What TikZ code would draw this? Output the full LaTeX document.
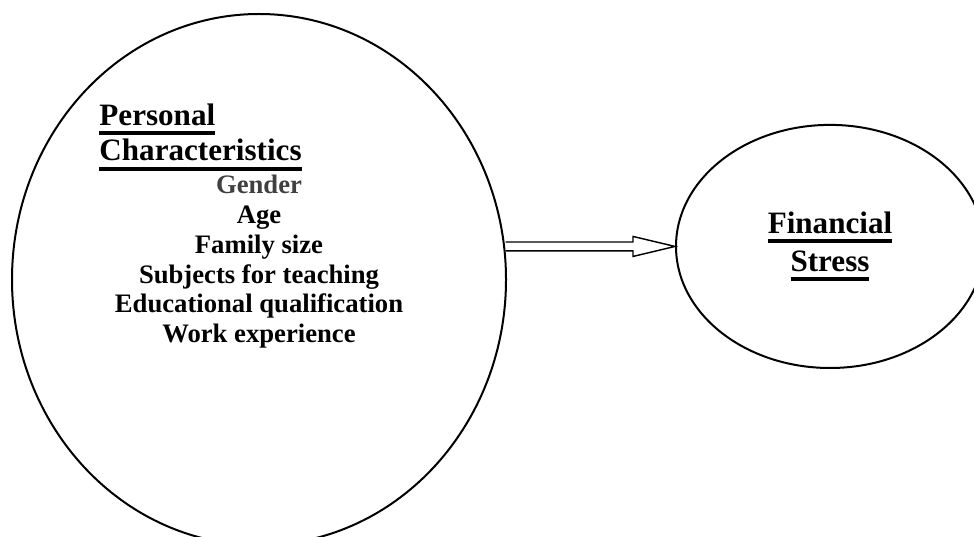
\documentclass[tikz,border=0pt]{standalone}
\usepackage{fontspec}
\setmainfont{Liberation Serif}
\usepackage{tikz}
\usetikzlibrary{shapes.geometric, calc}

\definecolor{gendergray}{HTML}{404040}
\newcommand{\hdline}[1]{\setbox0\hbox{#1}\rlap{\rule[-4.4pt]{\wd0}{1.8pt}}\box0}

\begin{document}
\begin{tikzpicture}[x=1pt, y=1pt,
	bubble/.style={draw, ellipse, line width=0.9pt, inner sep=0pt},
	heading/.style={font=\fontsize{14}{17.1}\selectfont\bfseries, inner sep=0pt}]
	\useasboundingbox (0,0) rectangle (438.3,241.2);
	\clip (0,0) rectangle (438.3,241.2);

	\node[bubble, minimum width=222.3pt, minimum height=239.0pt] (pc) at (116.55,115.4) {};
	\node[bubble, heading, minimum width=138.6pt, minimum height=109.4pt, align=center] (fs) at (373.5,130.3) {\hdline{Financial}\\\hdline{Stress}};

	\node[heading, anchor=base west] (pers) at (44.55,184.7) {\hdline{Personal}};
	\node[heading, anchor=base west] (chars) at (44.55,168.75) {\hdline{Characteristics}};
	\node[inner sep=0pt, anchor=north, align=center, font=\fontsize{12}{13.45}\selectfont\bfseries] (items) at (116.55,162.7)
		{\textcolor{gendergray}{Gender}\\Age\\Family size\\Subjects for teaching\\Educational qualification\\Work experience};

	\coordinate (tip) at (fs.west);
	\draw[line width=0.65pt] ($(pc.east |- tip)+(-0.6,2)$) -- ($(tip)+(-18.9,2)$) -- ($(tip)+(-18.9,4.5)$) -- (tip)
		-- ($(tip)+(-18.9,-4.5)$) -- ($(tip)+(-18.9,-2)$) -- ($(pc.east |- tip)+(-0.6,-2)$);

\end{tikzpicture}
\end{document}
